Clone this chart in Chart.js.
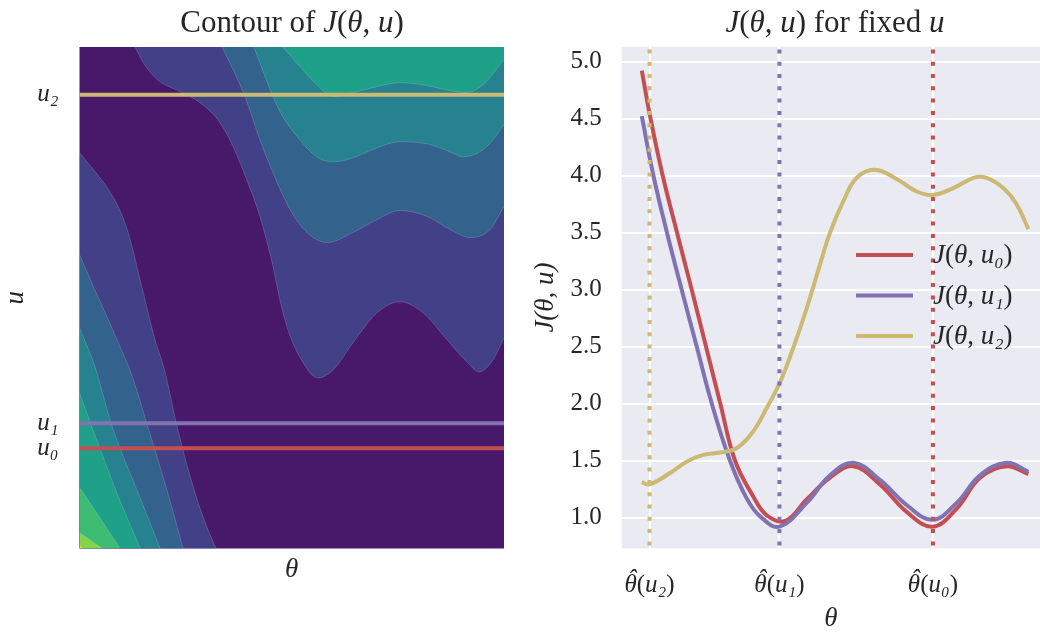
<!DOCTYPE html>
<html lang="en">

<head>
  <meta charset="UTF-8">
  <title>Contour of J(θ, u)</title>
  <script src="https://cdn.jsdelivr.net/npm/chart.js"></script>
  <style>
    body { margin: 0; background: #fff; }
    .panel { position: absolute; top: 0; width: 520px; height: 632px; }
    #left { left: 0; }
    #right { left: 520px; }
  </style>
</head>

<body>
  <div class="panel" id="left"><canvas id="contourChart" width="520" height="632"></canvas></div>
  <div class="panel" id="right"><canvas id="sliceChart" width="520" height="632"></canvas></div>

  <script>
    // theta and u are both scaled to 0..100 on the contour panel
    const levelColors = ['#48186a', '#424086', '#33638d', '#26828e', '#1fa088', '#3fbc73', '#84d44b', '#d8e219'];

    // contour edges coming off the left border, the higher level lies below them
    const lowEdge1 = [[0, 78.9], [3.6, 75.2], [6.8, 71.6], [9.1, 68.2], [11.5, 62.9], [13.9, 54.9], [15.8, 48.3], [17.8, 41.6], [20.0, 35.7], [23.0, 24.3], [27.2, 11.1], [30.0, 4.3], [32.2, 0]];
    const lowEdge2 = [[0, 58.6], [3.6, 51.6], [6.8, 45.6], [9.5, 40.3], [11.9, 35.6], [16.1, 24.3], [20.8, 11.1], [24.4, 0]];
    const lowEdge3 = [[0, 44.0], [3.5, 36.6], [7.7, 24.3], [13.8, 11.1], [19.0, 0]];
    const lowEdge4 = [[0, 31.0], [2.9, 24.3], [8.8, 11.1], [14.3, 0]];
    const lowEdge5 = [[0, 12.1], [4.8, 6.1], [9.5, 0]];
    const lowEdge6 = [[0, 3.1], [5.3, 0]];
    const lowEdge7 = [[0, 0.7], [0.8, 0]];

    // contour edges reaching the top border, the higher level lies above them
    const highEdge1 = [[13.1, 100], [15.0, 96.9], [18.3, 93.5], [23.7, 91.1], [28.4, 88.9], [33.1, 84.9], [36.2, 80.1], [39.4, 73.5], [42.5, 66.2], [45.6, 56.2], [47.2, 49.6], [49.1, 43.6], [51.9, 38.2], [56.2, 34.0], [59.7, 35.6], [64.4, 41.0], [70.1, 47.0], [75.5, 49.2], [80.9, 47.0], [86.6, 41.6], [91.3, 37.2], [94.1, 35.2], [97.4, 37.6], [100, 42.0]];
    const highEdge2 = [[33.6, 100], [39.0, 90.1], [42.5, 81.5], [45.6, 74.9], [49.6, 67.6], [53.6, 63.0], [58.3, 61.0], [64.4, 63.0], [70.1, 65.6], [75.5, 67.4], [81.9, 66.2], [87.3, 63.6], [92.0, 62.0], [96.7, 63.6], [100, 68.2]];
    const highEdge3 = [[41.1, 100], [45.6, 90.1], [47.9, 86.1], [51.9, 81.5], [55.9, 78.1], [59.7, 77.1], [64.4, 77.9], [70.1, 79.9], [75.5, 81.1], [81.9, 80.7], [87.3, 79.1], [90.3, 78.1], [94.3, 79.1], [97.4, 81.5], [100, 84.5]];
    const highEdge4 = [[47.9, 100], [51.9, 96.1], [55.9, 92.5], [59.7, 90.1], [64.4, 90.9], [70.1, 92.1], [75.5, 92.9], [81.9, 92.3], [87.3, 91.3], [91.3, 90.9], [95.1, 92.5], [100, 97.5]];

    // fixed u values and their names
    const uLevels = [20.0, 25.0, 90.5];
    const uNames = ['u₀', 'u₁', 'u₂'];
    const sliceColors = ['#c44e52', '#8172b2', '#ccb974'];

    // J(theta, u) read along each fixed u
    const thetaU0 = [0, 2.2, 5.4, 9.1, 12.9, 16.6, 20.3, 24.1, 28.9, 32.3, 37.1, 42.7, 48.7, 54.7, 61.6, 68.5, 75.2, 81.5, 87.5, 94.4, 100];
    const jU0 = [4.92, 4.51, 4.0, 3.5, 3.0, 2.5, 2.0, 1.5, 1.18, 1.02, 0.97, 1.16, 1.35, 1.45, 1.29, 1.05, 0.92, 1.08, 1.35, 1.45, 1.38];
    const thetaU1 = [0, 3.0, 6.5, 10.3, 14.2, 18.1, 22.8, 27.1, 30.6, 35.6, 42.7, 48.7, 54.7, 61.6, 68.5, 75.2, 81.5, 87.5, 94.4, 100];
    const jU1 = [4.52, 4.0, 3.5, 3.0, 2.5, 2.0, 1.5, 1.17, 1.01, 0.92, 1.13, 1.37, 1.48, 1.33, 1.11, 0.98, 1.13, 1.37, 1.48, 1.40];
    const thetaU2 = [0, 2.0, 7.3, 11.6, 15.9, 20.2, 24.6, 28.9, 32.3, 35.8, 39.2, 42.7, 46.1, 48.7, 52.2, 55.6, 60.3, 65.9, 71.1, 75.3, 80.6, 85.8, 89.2, 93.5, 96.9, 100];
    const jU2 = [1.31, 1.29, 1.39, 1.49, 1.55, 1.57, 1.61, 1.76, 1.96, 2.19, 2.49, 2.84, 3.22, 3.50, 3.78, 3.98, 4.05, 3.97, 3.86, 3.83, 3.89, 3.98, 3.98, 3.89, 3.75, 3.53];

    // minimisers theta_hat(u0), theta_hat(u1), theta_hat(u2)
    const thetaHat = [75.3, 35.6, 2.0];
    const thetaHatNames = ['θ̂(u₀)', 'θ̂(u₁)', 'θ̂(u₂)'];
    const jTicks = [1.0, 1.5, 2.0, 2.5, 3.0, 3.5, 4.0, 4.5, 5.0];

    const SERIF = '"Liberation Serif", "DejaVu Serif", serif';
    const INK = '#262626';

    // split "text $math$" into upright / italic runs, like mathtext does
    function mathParts(str) {
      const parts = [];
      str.split('$').forEach((seg, i) => {
        if (!seg) return;
        if (i % 2 === 0) { parts.push([seg, false]); return; }
        seg.match(/[A-Za-zθ\u0302₀-₉]+|[^A-Za-zθ\u0302₀-₉]+/g).forEach(run => parts.push([run, /[A-Za-zθ]/.test(run)]));
      });
      return parts;
    }

    // a combining circumflex is drawn as its own accent above the letter before it
    function drawRun(ctx, text, x, y, size) {
      let cx = x;
      for (let i = 0; i < text.length; i++) {
        const ch = text[i];
        if (ch === '\u0302') continue;
        const w = ctx.measureText(ch).width;
        ctx.fillText(ch, cx, y);
        if (text[i + 1] === '\u0302') {
          const aw = ctx.measureText('ˆ').width;
          ctx.fillText('ˆ', cx + w * 0.62 - aw / 2, y - size * 0.2);
        }
        cx += w;
      }
    }

    function drawMath(ctx, str, x, y, size, align) {
      const parts = mathParts(str);
      ctx.save();
      ctx.textBaseline = 'alphabetic';
      ctx.textAlign = 'left';
      ctx.fillStyle = INK;
      const fonts = parts.map(p => (p[1] ? 'italic ' : '') + size + 'px ' + SERIF);
      const widths = parts.map((p, i) => {
        ctx.font = fonts[i];
        return p[0].replace(/\u0302/g, '').split('').reduce((s, ch) => s + ctx.measureText(ch).width, 0);
      });
      let cx = align === 'center' ? x - widths.reduce((a, b) => a + b, 0) / 2 : x;
      parts.forEach((p, i) => { ctx.font = fonts[i]; drawRun(ctx, p[0], cx, y, size); cx += widths[i]; });
      ctx.restore();
    }

    function mathTitle(text, x, y) {
      return { id: 'mathTitle', afterDraw(chart) { drawMath(chart.ctx, text, x, y, 31, 'center'); } };
    }

    function areaFill(color) {
      return {
        id: 'areaFill',
        beforeDraw(chart) {
          const { ctx, chartArea: a } = chart;
          ctx.save();
          ctx.fillStyle = color;
          ctx.fillRect(a.left, a.top, a.right - a.left, a.bottom - a.top);
          ctx.restore();
        }
      };
    }

    // theta-hat labels under the x ticks (accented, so drawn by hand)
    const hatTicks = {
      id: 'hatTicks',
      afterDraw(chart) {
        const xs = chart.scales.x;
        xs.ticks.forEach(t => {
          drawMath(chart.ctx, '$' + thetaHatNames[thetaHat.indexOf(t.value)] + '$', xs.getPixelForValue(t.value), 592, 25, 'center');
        });
      }
    };

    const sliceLegend = {
      id: 'sliceLegend',
      afterDraw(chart) {
        const ctx = chart.ctx;
        chart.data.datasets.filter(d => d.inLegend).forEach((d, i) => {
          const y = 255 + i * 40.5;
          ctx.save();
          ctx.strokeStyle = d.borderColor;
          ctx.lineWidth = 4;
          ctx.beginPath();
          ctx.moveTo(336, y);
          ctx.lineTo(393, y);
          ctx.stroke();
          ctx.restore();
          drawMath(ctx, d.label, 413, y + 8, 27, 'left');
        });
      }
    };

    const toPoints = pairs => pairs.map(([x, y]) => ({ x, y }));
    const zipPoints = (xs, ys) => xs.map((x, i) => ({ x, y: ys[i] }));

    // ---------- left: filled contours ----------
    const contourSets = [];
    [lowEdge1, lowEdge2, lowEdge3, lowEdge4, lowEdge5, lowEdge6, lowEdge7].forEach((edge, i) => {
      contourSets.push({
        data: toPoints(edge), fill: 'start', backgroundColor: levelColors[i + 1],
        borderColor: 'rgba(255,255,255,0.25)', borderWidth: 0.7, pointRadius: 0,
        cubicInterpolationMode: 'monotone', order: 20 - i
      });
    });
    [highEdge1, highEdge2, highEdge3, highEdge4].forEach((edge, i) => {
      contourSets.push({
        data: toPoints(edge), fill: 'end', backgroundColor: levelColors[i + 1],
        borderColor: 'rgba(255,255,255,0.25)', borderWidth: 0.7, pointRadius: 0,
        cubicInterpolationMode: 'monotone', order: 20 - i
      });
    });
    uLevels.forEach((u, i) => {
      contourSets.push({
        data: [{ x: 0, y: u }, { x: 100, y: u }], borderColor: sliceColors[i],
        borderWidth: 4, pointRadius: 0, fill: false, order: 0
      });
    });

    new Chart(document.getElementById('contourChart'), {
      type: 'line',
      data: { datasets: contourSets },
      options: {
        responsive: false,
        animation: false,
        layout: { padding: { top: 47, right: 16, bottom: 0, left: 0 } },
        plugins: { legend: { display: false }, tooltip: { enabled: false } },
        scales: {
          x: {
            type: 'linear', min: 0, max: 100,
            grid: { display: false }, border: { display: false },
            ticks: { display: false },
            title: { display: true, text: 'θ', color: INK, font: { family: SERIF, size: 27, style: 'italic', lineHeight: 1 }, padding: { top: 0, bottom: 49 } },
            afterFit(scale) { scale.height = 83.5; }
          },
          y: {
            type: 'linear', min: 0, max: 100,
            grid: { display: false, drawTicks: false }, border: { display: false },
            afterBuildTicks(scale) { scale.ticks = uLevels.map(v => ({ value: v })); },
            ticks: {
              autoSkip: false, padding: 21, color: INK,
              font: { family: SERIF, size: 25, style: 'italic' },
              callback: v => uNames[uLevels.indexOf(v)]
            },
            title: { display: true, text: 'u', color: INK, font: { family: SERIF, size: 27, style: 'italic', lineHeight: 1 }, padding: { top: 2, bottom: 0 } },
            afterFit(scale) { scale.width = 79.5; }
          }
        }
      },
      plugins: [areaFill(levelColors[0]), mathTitle('Contour of $J(θ, u)$', 292, 32)]
    });

    // ---------- right: J(theta, u) for the three u ----------
    const sliceSets = [
      { label: '$J(θ, u₀)$', data: zipPoints(thetaU0, jU0), borderColor: sliceColors[0], order: 3, inLegend: true },
      { label: '$J(θ, u₁)$', data: zipPoints(thetaU1, jU1), borderColor: sliceColors[1], order: 2, inLegend: true },
      { label: '$J(θ, u₂)$', data: zipPoints(thetaU2, jU2), borderColor: sliceColors[2], order: 1, inLegend: true }
    ].map(d => Object.assign(d, { borderWidth: 4, pointRadius: 0, fill: false, tension: 0.4 }));

    thetaHat.forEach((t, i) => {
      sliceSets.push({
        data: [{ x: t, y: 0 }, { x: t, y: 6 }], borderColor: sliceColors[i], borderWidth: 4,
        borderDash: [4, 8.3], borderCapStyle: 'butt', pointRadius: 0, fill: false, order: 0
      });
    });

    new Chart(document.getElementById('sliceChart'), {
      type: 'line',
      data: { datasets: sliceSets },
      options: {
        responsive: false,
        animation: false,
        layout: { padding: { top: 46.7, right: 0, bottom: 0, left: 0 } },
        plugins: { legend: { display: false }, tooltip: { enabled: false } },
        scales: {
          x: {
            type: 'linear', min: -5.2, max: 103,
            grid: { color: '#ffffff', lineWidth: 2, drawTicks: false }, border: { display: false },
            afterBuildTicks(scale) { scale.ticks = thetaHat.slice().sort((a, b) => a - b).map(v => ({ value: v })); },
            ticks: { display: false },
            title: { display: true, text: 'θ', color: INK, font: { family: SERIF, size: 27, style: 'italic', lineHeight: 1 }, padding: { top: 0, bottom: 0 } },
            afterFit(scale) { scale.height = 83.7; }
          },
          y: {
            type: 'linear', min: 0.73, max: 5.13,
            grid: { color: '#ffffff', lineWidth: 2, drawTicks: false }, border: { display: false },
            afterBuildTicks(scale) { scale.ticks = jTicks.map(v => ({ value: v })); },
            ticks: { padding: 20, color: INK, font: { family: SERIF, size: 25 }, callback: v => v.toFixed(1) },
            title: { display: true, text: 'J(θ, u)', color: INK, font: { family: SERIF, size: 27, style: 'italic', lineHeight: 1 }, padding: { top: 12, bottom: 0 } },
            afterFit(scale) { scale.width = 101.7; }
          }
        }
      },
      plugins: [areaFill('#eaeaf2'), mathTitle('$J(θ, u)$ for fixed $u$', 315, 32), hatTicks, sliceLegend]
    });
  </script>
</body>

</html>
